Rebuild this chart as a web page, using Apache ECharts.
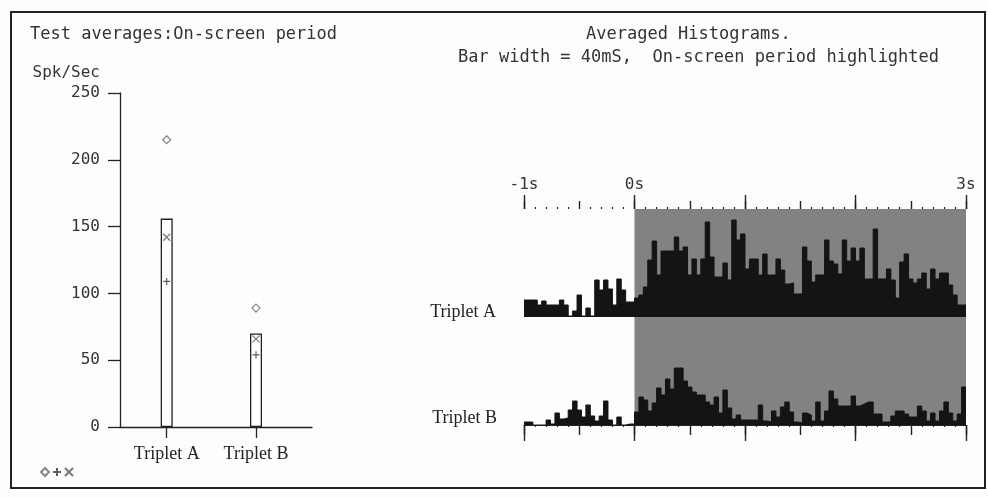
<!DOCTYPE html>
<html>
<head>
<meta charset="utf-8">
<script src="https://cdn.jsdelivr.net/npm/echarts@6/dist/echarts.min.js"></script>
<style>
  html, body { margin: 0; padding: 0; background: #fdfdfd; }
  #chart { width: 988px; height: 497px; }
</style>
</head>
<body>
<div id="chart"></div>
<script>
// ---- Left panel: test averages over the on-screen period (spikes / s) ----
const categories = ['Triplet A', 'Triplet B'];
const meanRate   = [156, 70];   // bar height
const diamondVal = [215, 89];   // ◇ marker
const crossVal   = [142, 66];   // × marker
const plusVal    = [109, 54];   // + marker
const rateTickInterval = 50;

// ---- Right panel: averaged histograms, 40 ms bins from -1 s to 3 s ----
const histA = [
  17, 17, 17, 12, 16, 12, 12, 12, 17, 12, 1, 6, 22, 1, 9, 1, 37, 27, 37, 28, 12, 38, 27, 15, 15,
  19, 22, 30, 57, 76, 42, 66, 66, 66, 80, 66, 70, 42, 58, 42, 58, 95, 60, 40, 40, 54, 37, 97, 77, 83,
  48, 58, 58, 42, 63, 42, 42, 58, 47, 33, 34, 23, 23, 70, 56, 35, 42, 42, 77, 56, 53, 43, 77, 56, 69,
  56, 69, 38, 38, 88, 38, 38, 48, 37, 19, 55, 63, 38, 34, 38, 44, 28, 48, 38, 44, 44, 32, 22, 12, 12
];
const histB = [
  3, 3, 0, 0, 0, 5, 1, 12, 6, 7, 15, 24, 15, 8, 20, 9, 4, 9, 24, 5, 0, 8, 0, 1, 1,
  13, 28, 25, 14, 22, 37, 30, 46, 36, 57, 57, 44, 38, 33, 30, 30, 23, 20, 28, 12, 35, 17, 6, 10, 5,
  5, 5, 5, 20, 4, 3, 14, 8, 18, 23, 13, 3, 2, 12, 10, 4, 23, 4, 14, 34, 26, 19, 19, 19, 29,
  19, 21, 23, 23, 11, 11, 3, 3, 9, 14, 14, 11, 8, 8, 19, 14, 4, 12, 4, 14, 23, 12, 4, 11, 38
];
const binWidth = 0.04;                       // seconds (40 ms)
const timeStart = -1, timeEnd = 3;           // seconds
const onScreen = [0, 3];                     // highlighted period (s)
const timeTicks      = [-1, 0, 1, 2, 3];
const timeTickLabels = ['-1s', '0s', '', '', '3s'];
const histScaleMax = 108;

// Each bin is held from its left edge to the next edge (step 'end');
// the last bin is closed at the right edge of the time axis.
function binSteps(counts) {
  const pts = counts.map((v, i) => [timeStart + i * binWidth, v]);
  pts.push([timeEnd, counts[counts.length - 1]]);
  return pts;
}

const ink = '#222';
const textInk = '#333';
const barInk = '#141414';
const highlight = '#828282';
const mono = 'DejaVu Sans Mono';
const serif = 'Liberation Serif';

const chart = echarts.init(document.getElementById('chart'), null, { renderer: 'canvas' });

function timeAxis(grid, pos, interval, len, withLabels, withMinor, withLine) {
  return {
    type: 'value', gridIndex: grid, position: pos,
    min: timeStart, max: timeEnd, interval: interval,
    axisLine: { show: withLine, onZero: false, lineStyle: { color: ink, width: 1 } },
    axisTick: { show: true, length: len, lineStyle: { color: ink, width: 1.4 } },
    minorTick: { show: withMinor, splitNumber: 5, length: 2, lineStyle: { color: ink, width: 1.2 } },
    axisLabel: withLabels ? {
      show: true, margin: 16, color: textInk, fontFamily: mono, fontSize: 16,
      showMinLabel: true, showMaxLabel: true,
      formatter: v => { const k = timeTicks.indexOf(Math.round(v)); return k >= 0 ? timeTickLabels[k] : ''; }
    } : { show: false },
    splitLine: { show: false }, minorSplitLine: { show: false }
  };
}

function textEl(x, y, text, font, fill, align) {
  return { type: 'text', x: x, y: y,
    style: { text: text, font: font, fill: fill, align: align, verticalAlign: 'middle',
             textAlign: align, textVerticalAlign: 'middle' } };
}

function histSeries(name, xi, yi, counts) {
  return {
    type: 'line', name: name, xAxisIndex: xi, yAxisIndex: yi,
    data: binSteps(counts), step: 'end', showSymbol: false, z: 3, silent: true,
    lineStyle: { color: barInk, width: 1 },
    areaStyle: { color: barInk, opacity: 1, origin: 'start' }
  };
}

function highlightSeries(name, xi, yi) {
  return {
    type: 'line', name: name, xAxisIndex: xi, yAxisIndex: yi, data: [], z: 1, silent: true,
    markArea: { silent: true, itemStyle: { color: highlight },
                data: [[{ xAxis: onScreen[0] }, { xAxis: onScreen[1] }]] }
  };
}

const option = {
  backgroundColor: '#fdfdfd',
  animation: false,
  textStyle: { fontFamily: mono },
  graphic: [
    { type: 'rect', shape: { x: 11, y: 12, width: 974, height: 476 },
      style: { fill: 'none', stroke: ink, lineWidth: 2 }, z: 10 },
    textEl(30, 35, 'Test averages:On-screen period', '17px "DejaVu Sans Mono"', textInk, 'left'),
    textEl(586, 35, 'Averaged Histograms.', '17px "DejaVu Sans Mono"', textInk, 'left'),
    textEl(458, 58, 'Bar width = 40mS,  On-screen period highlighted', '17px "DejaVu Sans Mono"', textInk, 'left'),
    textEl(496, 312, categories[0], '18px "Liberation Serif"', ink, 'right'),
    textEl(497, 418, categories[1], '18px "Liberation Serif"', ink, 'right')
  ],
  legend: {
    left: 35, top: 462, itemWidth: 8, itemHeight: 8, itemGap: 2,
    formatter: () => '', selectedMode: false,
    textStyle: { fontSize: 1 },
    data: ['Diamond', 'Plus', 'Cross']
  },
  grid: [
    { left: 120, top: 93, width: 192, height: 334 },
    { left: 524, top: 209, width: 442, height: 108 },
    { left: 524, top: 317, width: 442, height: 108 }
  ],
  xAxis: [
    { // 0: left panel categories
      type: 'value', gridIndex: 0, min: 0.477, max: 2.627,
      axisLine: { show: true, onZero: false, lineStyle: { color: ink, width: 1.3 } },
      axisTick: { show: true, customValues: [1, 2], length: 11, lineStyle: { color: ink, width: 1.3 } },
      axisLabel: { show: true, customValues: [1, 2], margin: 18, color: ink, fontFamily: serif, fontSize: 18,
                   formatter: v => categories[Math.round(v) - 1] || '' },
      splitLine: { show: false }
    },
    timeAxis(1, 'top', 1, 14, true, false, false),       // 1: histogram A, whole seconds
    timeAxis(1, 'top', 0.5, 8, false, true, false),      // 2: histogram A, half seconds + 0.1 s
    timeAxis(2, 'bottom', 1, 16, false, false, true),    // 3: histogram B, whole seconds
    timeAxis(2, 'bottom', 0.5, 10, false, true, false)   // 4: histogram B, half seconds + 0.1 s
  ],
  yAxis: [
    {
      type: 'value', gridIndex: 0, min: 0, max: 250, interval: rateTickInterval,
      name: 'Spk/Sec', nameLocation: 'end', nameGap: 20,
      nameTextStyle: { fontFamily: mono, fontSize: 16, color: textInk, align: 'right',
                       verticalAlign: 'middle', padding: [0, 20, 0, 0] },
      axisLine: { show: true, lineStyle: { color: ink, width: 1.3 } },
      axisTick: { show: true, length: 12, lineStyle: { color: ink, width: 1.3 } },
      axisLabel: { margin: 20, color: textInk, fontFamily: mono, fontSize: 16 },
      splitLine: { show: false }
    },
    { type: 'value', gridIndex: 1, min: 0, max: histScaleMax, show: false },
    { type: 'value', gridIndex: 2, min: 0, max: histScaleMax, show: false }
  ],
  series: [
    {
      type: 'bar', name: 'Mean', xAxisIndex: 0, yAxisIndex: 0, barWidth: 12,
      data: categories.map((c, i) => [i + 1, meanRate[i]]),
      itemStyle: { color: '#ffffff', borderColor: ink, borderWidth: 1.3 }
    },
    {
      type: 'scatter', name: 'Diamond', xAxisIndex: 0, yAxisIndex: 0,
      symbol: 'diamond', symbolSize: 8,
      data: categories.map((c, i) => [i + 1, diamondVal[i]]),
      itemStyle: { color: 'rgba(0,0,0,0)', borderColor: '#666', borderWidth: 1.2 }, z: 5
    },
    {
      type: 'scatter', name: 'Plus', xAxisIndex: 0, yAxisIndex: 0,
      symbol: 'path://M5,0L5,10M0,5L10,5', symbolSize: 7,
      data: categories.map((c, i) => [i + 1, plusVal[i]]),
      itemStyle: { color: 'rgba(0,0,0,0)', borderColor: '#333', borderWidth: 1.2 }, z: 5
    },
    {
      type: 'scatter', name: 'Cross', xAxisIndex: 0, yAxisIndex: 0,
      symbol: 'path://M0,0L10,10M10,0L0,10', symbolSize: 7,
      data: categories.map((c, i) => [i + 1, crossVal[i]]),
      itemStyle: { color: 'rgba(0,0,0,0)', borderColor: '#555', borderWidth: 1.2 }, z: 5
    },
    highlightSeries('On-screen A', 1, 1),
    highlightSeries('On-screen B', 3, 2),
    histSeries('Histogram A', 1, 1, histA),
    histSeries('Histogram B', 3, 2, histB)
  ]
};

chart.setOption(option);
</script>
</body>
</html>
